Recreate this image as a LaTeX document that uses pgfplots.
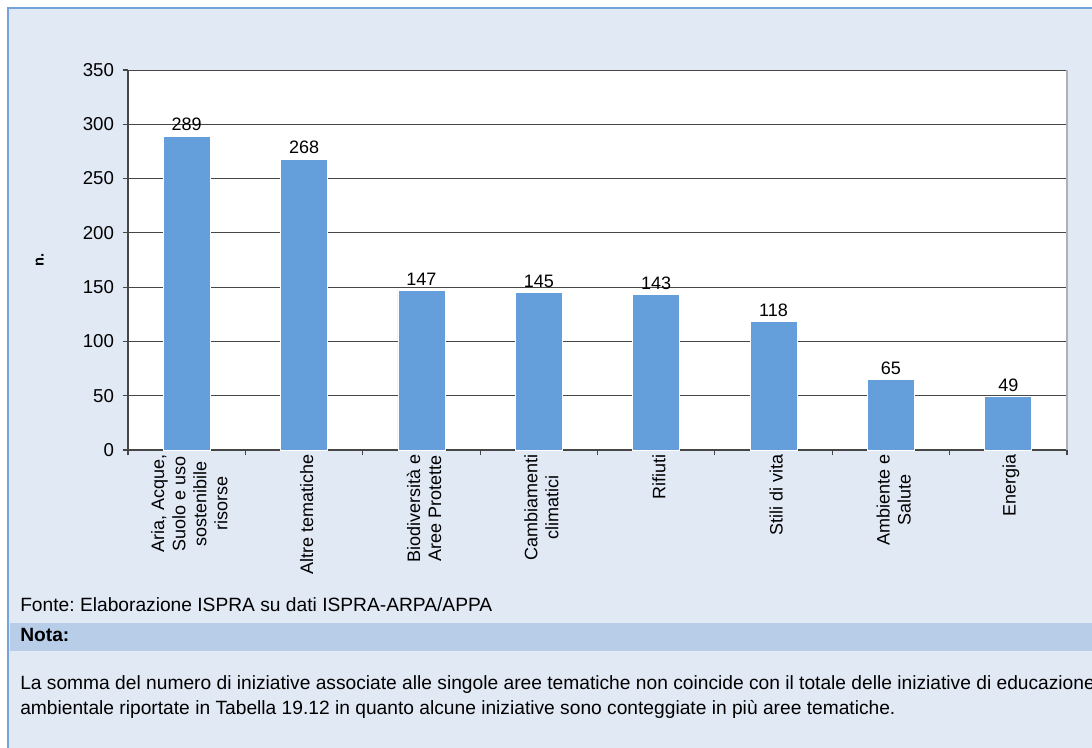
\documentclass[border=0pt]{standalone}
\usepackage{fontspec}
\setmainfont{Liberation Sans}
\usepackage{pgfplots}
\pgfplotsset{compat=1.18}
\definecolor{bgblue}{RGB}{225,233,245}
\definecolor{frameblue}{RGB}{115,163,218}
\definecolor{bandblue}{RGB}{184,206,232}
\definecolor{barblue}{RGB}{101,159,219}
\definecolor{gridgray}{RGB}{70,70,70}
\frenchspacing
\begin{document}
\begin{tikzpicture}
\useasboundingbox (0,0) rectangle (819pt,561pt);
\clip (0,0) rectangle (819pt,561pt);
\fill[white] (0,0) rectangle (819pt,561pt);
\fill[bgblue] (6pt,0) rectangle (819pt,555pt);
\draw[frameblue, line width=1.6pt] (6.3pt,0) -- (6.3pt,554.7pt) -- (819pt,554.7pt);
\fill[bandblue] (7.5pt,72.75pt) rectangle (819pt,93.75pt);
\node[anchor=base west, inner sep=0pt, font=\fontsize{14.4}{17}\selectfont] at (15pt,102pt) {Fonte: Elaborazione ISPRA su dati ISPRA-ARPA/APPA};
\node[anchor=base west, inner sep=0pt, font=\fontsize{14.4}{17}\selectfont\bfseries] at (15pt,79.5pt) {Nota:};
\node[anchor=base west, inner sep=0pt, font=\fontsize{14.4}{17}\selectfont] at (15pt,43.5pt) {La somma del numero di iniziative associate alle singole aree tematiche non coincide con il totale delle iniziative di educazione};
\node[anchor=base west, inner sep=0pt, font=\fontsize{14.4}{17}\selectfont] at (15pt,24.75pt) {ambientale riportate in Tabella 19.12 in quanto alcune iniziative sono conteggiate in più aree tematiche.};
\begin{axis}[
  at={(96pt,223.5pt)}, anchor=south west,
  scale only axis, width=704.25pt, height=285pt,
  xmin=-0.5, xmax=7.5, ymin=0, ymax=350,
  ytick={0,50,...,350},
  ymajorgrids, grid style={gridgray, line width=0.7pt},
  axis background/.style={fill=white},
  axis x line*=bottom, axis y line*=left,
  axis line style={gridgray, line width=0.8pt},
  tick align=outside, major tick length=4pt,
  tick style={gridgray, line width=0.8pt},
  xtick={-0.5,0.5,...,7.5}, xticklabels={},
  extra x ticks={0,1,2,3,4,5,6,7},
  extra x tick style={major tick length=0pt, grid=none},
  extra x tick labels={{Aria, Acque,\\Suolo e uso\\sostenibile\\risorse},{Altre tematiche},{Biodiversità e\\Aree Protette},{Cambiamenti\\climatici},{Rifiuti},{Stili di vita},{Ambiente e\\Salute},{Energia}},
  xticklabel style={rotate=90, anchor=east, align=center, font=\fontsize{13.5}{15.8}\selectfont, yshift=-2pt},
  yticklabel style={font=\fontsize{14}{16}\selectfont, xshift=-3pt},
  /pgf/number format/assume math mode=true,
  ybar, bar width=35.25pt,
  nodes near coords, nodes near coords style={font=\fontsize{13.5}{16}\selectfont, /pgf/number format/assume math mode=true, inner sep=1.5pt, yshift=2pt},
  clip=false,
]
\addplot[fill=barblue, draw=white, line width=0.6pt] coordinates {(0,289) (1,268) (2,147) (3,145) (4,143) (5,118) (6,65) (7,49)};
\draw[gray!60, line width=0.8pt] (rel axis cs:1,0) -- (rel axis cs:1,1);
\node[rotate=90, font=\fontsize{11}{13}\selectfont\bfseries] at (rel axis cs:-0.094,0.5) {n.};
\end{axis}
\end{tikzpicture}
\end{document}
